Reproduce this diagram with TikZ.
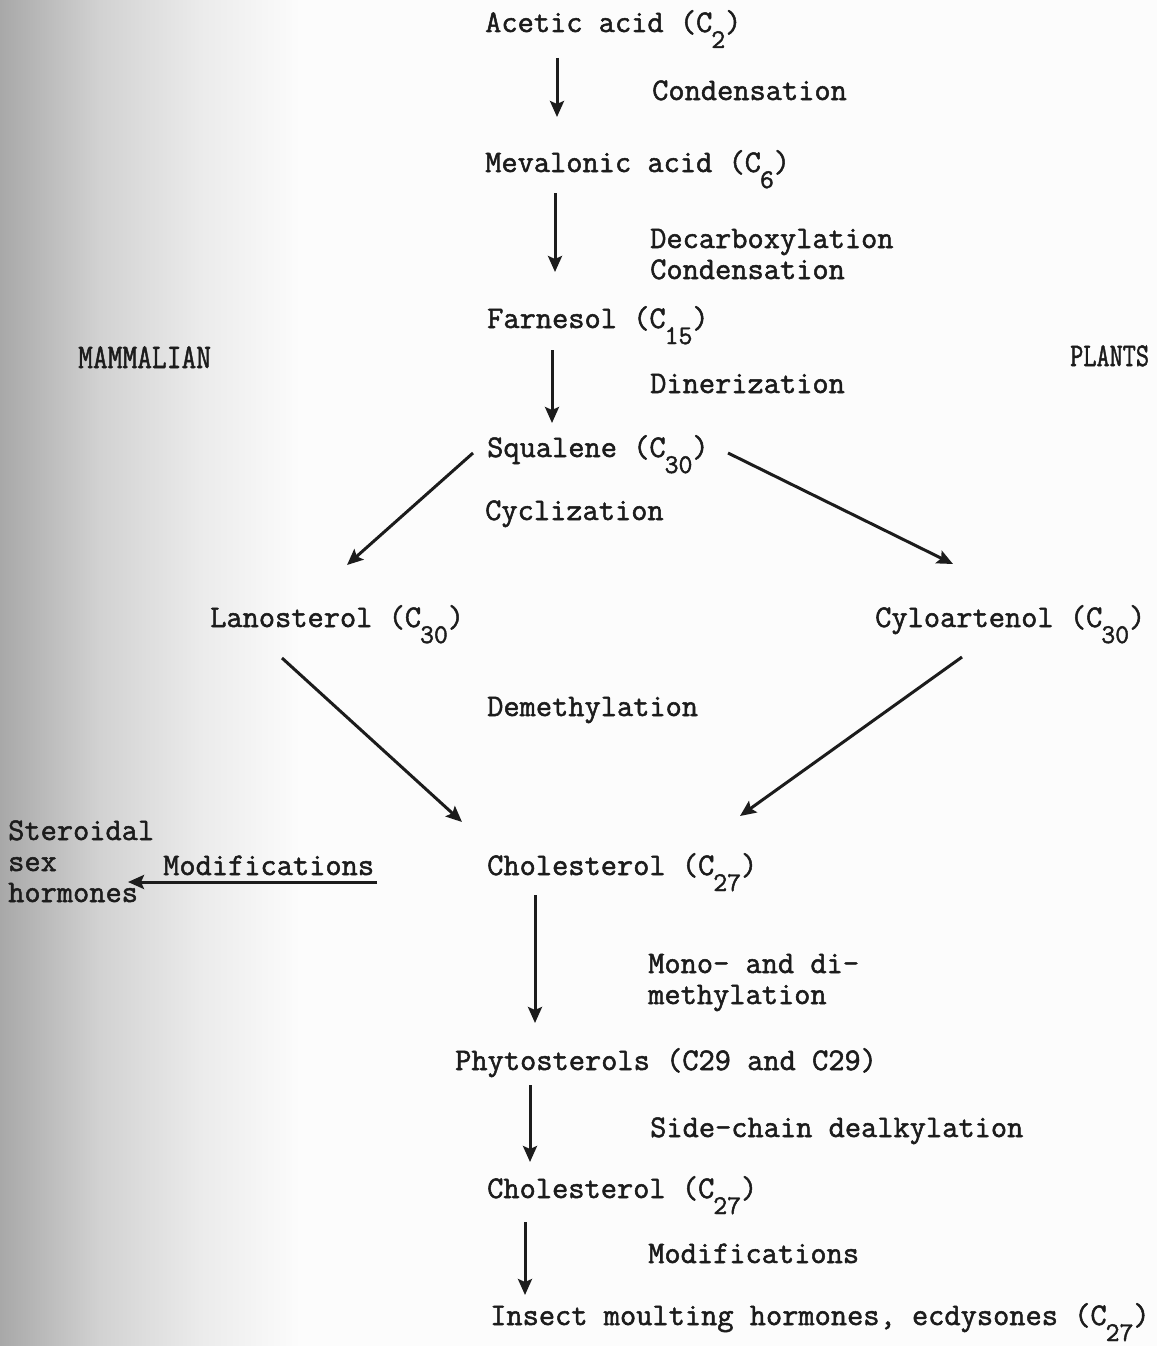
\documentclass[tikz,border=0pt]{standalone}
\usepackage{fontspec}
\setmainfont{Latin Modern Mono}[FakeBold=1.6]
\usetikzlibrary{arrows.meta,calc}
\definecolor{ink}{HTML}{1C1C1C}
\definecolor{paper}{HTML}{FCFCFC}
\definecolor{gA}{HTML}{A8A8A8}
\definecolor{gB}{HTML}{D2D2D2}
\definecolor{gC}{HTML}{EBEBEB}
\newcommand{\subd}[1]{\kern-1pt\raisebox{-16pt}{\fontsize{27}{27}\selectfont #1}}
\begin{document}
\begin{tikzpicture}[x=1pt,y=-1pt,
  lbl/.style={anchor=base west, inner sep=0pt, text=ink, font=\fontsize{31.5}{31}\selectfont},
  arr/.style={draw=ink, line width=3pt, -{Stealth[length=16pt,width=14pt,inset=3pt]}},
]
\useasboundingbox (0,0) rectangle (1157,1346);
\fill[paper] (0,0) rectangle (1157,1346);
\shade[left color=gA, right color=gB, draw=none] (0,0) rectangle (100,1346);
\shade[left color=gB, right color=gC, draw=none] (100,0) rectangle (200,1346);
\shade[left color=gC, right color=paper, draw=none] (200,0) rectangle (300,1346);

\node[lbl] (acetic) at (485,32) {Acetic acid (C\subd{2})};
\node[lbl] (cond1) at (652,100) {Condensation};
\node[lbl] (meval) at (485,172) {Mevalonic acid (C\subd{6})};
\node[lbl] (decarb) at (650,248) {\begin{tabular}[t]{@{}l@{}}Decarboxylation\\Condensation\end{tabular}};
\node[lbl] (farn) at (487,328) {Farnesol (C\subd{15})};
\node[lbl] (mammal) at (78,368) {\scalebox{0.91}[1.1]{MAMMALIAN}};
\node[lbl] (plants) at (1070,366) {\scalebox{0.81}[1.05]{PLANTS}};
\node[lbl] (diner) at (650,393) {Dinerization};
\node[lbl] (squal) at (487,457) {Squalene (C\subd{30})};
\node[lbl] (cycl) at (485,520) {Cyclization};
\node[lbl] (lano) at (210,627) {Lanosterol (C\subd{30})};
\node[lbl] (cylo) at (875,627) {Cyloartenol (C\subd{30})};
\node[lbl] (demeth) at (487,716) {Demethylation};
\node[lbl] (steroid) at (8,840) {\begin{tabular}[t]{@{}l@{}}Steroidal\\sex\\hormones\end{tabular}};
\node[lbl] (modL) at (163,875) {Modifications};
\node[lbl] (chol1) at (487,875) {Cholesterol (C\subd{27})};
\node[lbl] (mono) at (648,973) {\begin{tabular}[t]{@{}l@{}}Mono- and di-\\methylation\end{tabular}};
\node[lbl] (phyto) at (455,1070) {Phytosterols (C29 and C29)};
\node[lbl] (side) at (650,1137) {Side-chain dealkylation};
\node[lbl] (chol2) at (487,1198) {Cholesterol (C\subd{27})};
\node[lbl] (mod2) at (648,1263) {Modifications};
\node[lbl] (insect) at (490,1325) {Insect moulting hormones, ecdysones (C\subd{27})};

\draw[arr] ($(acetic.base west)+(72,26)$) -- ($(meval.base west)+(72,-55)$);
\draw[arr] ($(meval.base west)+(70,21)$) -- ($(farn.base west)+(68,-56)$);
\draw[arr] ($(farn.base west)+(65,22)$) -- ($(squal.base west)+(65,-34)$);
\draw[arr] ($(squal.base west)+(-14,-4)$) -- ($(lano.base west)+(137,-62)$);
\draw[arr] ($(squal.base west)+(241,-4)$) -- ($(cylo.base west)+(78,-63)$);
\draw[arr] ($(lano.base west)+(72,31)$) -- ($(chol1.base west)+(-25,-53)$);
\draw[arr] ($(cylo.base west)+(87,30)$) -- ($(chol1.base west)+(253,-59)$);
\draw[arr] ($(modL.base west)+(214,7)$) -- ($(steroid.base west)+(120,42)$);
\draw[arr] ($(chol1.base west)+(48,20)$) -- ($(phyto.base west)+(80,-47)$);
\draw[arr] ($(phyto.base west)+(75,15)$) -- ($(chol2.base west)+(43,-36)$);
\draw[arr] ($(chol2.base west)+(38,24)$) -- ($(insect.base west)+(35,-30)$);
\end{tikzpicture}
\end{document}
